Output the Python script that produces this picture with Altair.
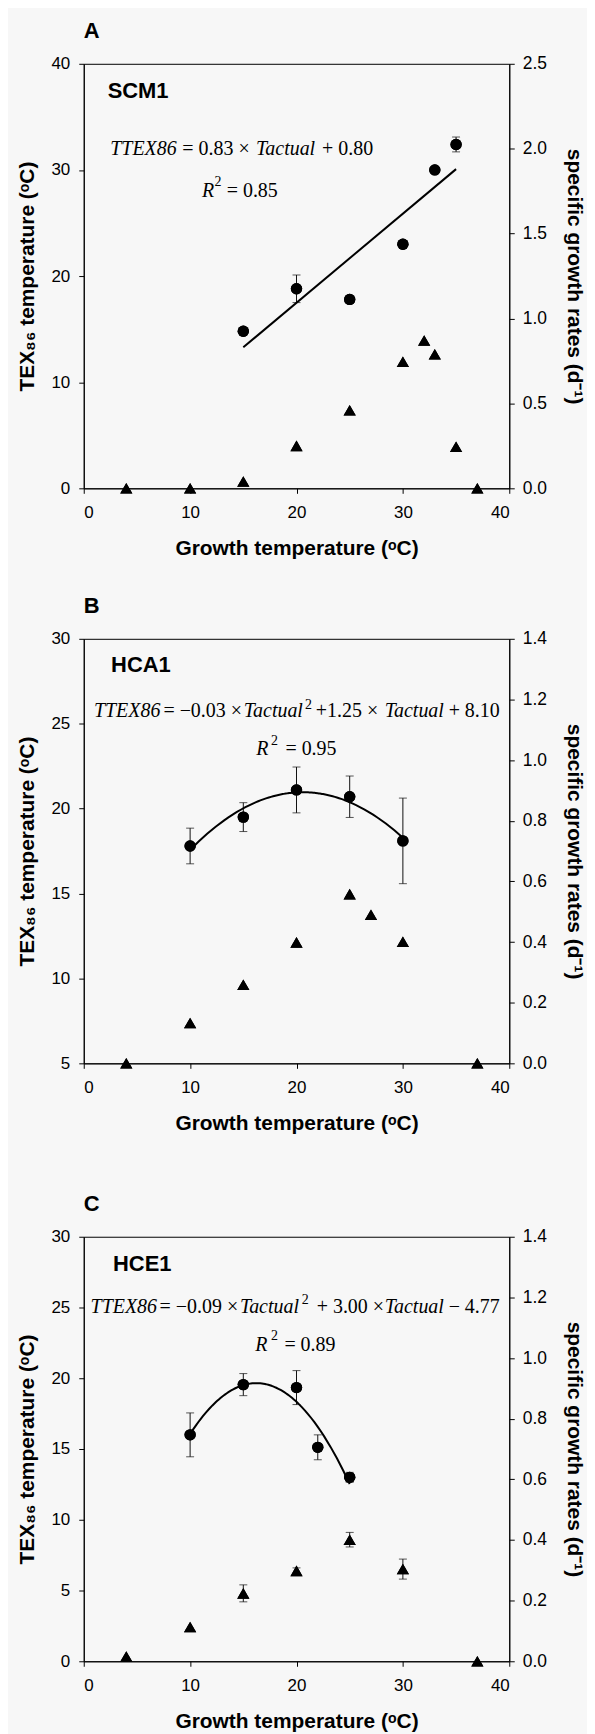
import altair as alt
import pandas as pd

# ---------------- shared ----------------
X_TICKS = [0, 10, 20, 30, 40]
X_TITLE = "Growth temperature (ᵒC)"
Y_TITLE = "TEX₈₆ temperature (ᵒC)"
R_TITLE = "specific growth rates (d⁻¹)"

# ---------------- Panel A : SCM1 ----------------
A_TEX_X = [15, 20, 25, 30, 33, 35]
A_TEX = [14.8, 18.8, 17.8, 23.0, 30.0, 32.4]
A_TEX_ERR = [0.0, 1.3, 0.0, 0.0, 0.0, 0.7]
A_RATE_X = [4, 10, 15, 20, 25, 30, 32, 33, 35, 37]
A_RATE = [0.0, 0.0, 0.04, 0.25, 0.46, 0.745, 0.87, 0.79, 0.245, 0.0]
A_RATE_ERR = [0.0, 0.0, 0.0, 0.0, 0.0, 0.0, 0.0, 0.0, 0.0, 0.0]
A_Y_DOMAIN = [0, 40]
A_Y_TICKS = [0, 10, 20, 30, 40]
A_R_DOMAIN = [0, 2.5]
A_R_TICKS = [0.0, 0.5, 1.0, 1.5, 2.0, 2.5]
A_ITALIC = [("TTEX86", 2.49, 31.36), ("Tactual", 16.2, 31.36), ("R", 11.12, 27.42)]
A_UPRIGHT = [("= 0.83 ×", 9.27, 31.36), ("+ 0.80", 22.4, 31.36), ("= 0.85", 13.44, 27.42)]
A_SUP = [("2", 12.3, 28.45)]
A_LABEL = [("SCM1", 2.25, 36.74)]

# ---------------- Panel B : HCA1 ----------------
B_TEX_X = [10, 15, 20, 25, 30]
B_TEX = [17.8, 19.5, 21.1, 20.7, 18.1]
B_TEX_ERR = [1.05, 0.85, 1.35, 1.22, 2.52]
B_RATE_X = [4, 10, 15, 20, 25, 27, 30, 37]
B_RATE = [0.0, 0.133, 0.259, 0.399, 0.558, 0.49, 0.401, 0.0]
B_RATE_ERR = [0.0, 0.0, 0.0, 0.0, 0.0, 0.0, 0.0, 0.0]
B_Y_DOMAIN = [5, 30]
B_Y_TICKS = [5, 10, 15, 20, 25, 30]
B_R_DOMAIN = [0, 1.4]
B_R_TICKS = [0.0, 0.2, 0.4, 0.6, 0.8, 1.0, 1.2, 1.4]
B_ITALIC = [("TTEX86", 0.96, 25.41), ("Tactual", 15.05, 25.41), ("Tactual", 28.3, 25.41), ("R", 16.22, 23.16)]
B_UPRIGHT = [("= −0.03 ×", 7.49, 25.41), ("+1.25 ×", 21.82, 25.41), ("+ 8.10", 34.3, 25.41), ("= 0.95", 18.96, 23.16)]
B_SUP = [("2", 20.8, 25.85), ("2", 17.61, 23.75)]
B_LABEL = [("HCA1", 2.57, 28.05)]

# ---------------- Panel C : HCE1 ----------------
C_TEX_X = [10, 15, 20, 22, 25]
C_TEX = [16.0, 19.55, 19.34, 15.12, 13.0]
C_TEX_ERR = [1.55, 0.78, 1.2, 0.88, 0.35]
C_RATE_X = [4, 10, 15, 20, 25, 30, 37]
C_RATE = [0.016, 0.113, 0.224, 0.298, 0.401, 0.304, 0.0]
C_RATE_ERR = [0.0, 0.0, 0.028, 0.01, 0.024, 0.033, 0.0]
C_Y_DOMAIN = [0, 30]
C_Y_TICKS = [0, 5, 10, 15, 20, 25, 30]
C_R_DOMAIN = [0, 1.4]
C_R_TICKS = [0.0, 0.2, 0.4, 0.6, 0.8, 1.0, 1.2, 1.4]
C_ITALIC = [("TTEX86", 0.64, 24.63), ("Tactual", 14.68, 24.63), ("Tactual", 28.3, 24.63), ("R", 16.12, 21.94)]
C_UPRIGHT = [("= −0.09 ×", 7.13, 24.63), ("+ 3.00 ×", 21.9, 24.63), ("− 4.77", 34.3, 24.63), ("= 0.89", 18.86, 21.94)]
C_SUP = [("2", 20.5, 25.27), ("2", 17.61, 22.69)]
C_LABEL = [("HCE1", 2.75, 27.55)]

W, H = 427, 426
XSCALE = alt.Scale(domain=[0, 40], nice=False, zero=False)
XAXIS = alt.Axis(values=X_TICKS, title=X_TITLE)
SERIF = "Liberation Serif"


def errbars(df, field, Y):
    base = (alt.Chart(df)
            .transform_filter("datum.err > 0")
            .transform_calculate(lo=f"datum.{field} - datum.err", hi=f"datum.{field} + datum.err"))
    X = alt.X("x:Q", scale=XSCALE, axis=XAXIS)
    rule = base.mark_rule(color="#111", strokeWidth=1).encode(
        x=X, y=Y("lo:Q"), y2="hi:Q")
    caps = base.transform_fold(["lo", "hi"], as_=["end", "v"]).mark_tick(
        orient="horizontal", size=8, thickness=1, color="#111").encode(
        x=X, y=Y("v:Q"))
    return [rule, caps]


def texts(items, Y, **kw):
    df = pd.DataFrame(items, columns=["t", "x", "y"])
    X = alt.X("x:Q", scale=XSCALE, axis=XAXIS)
    return alt.Chart(df).mark_text(align="left", baseline="alphabetic", color="black", **kw).encode(
        x=X, y=Y("y:Q"), text="t:N")


def panel(letter, tx, tv, te, rx, rv, re_, ydom, yticks, rdom, rticks,
          ital, upr, sup, lab, method, order=None):
    tex_df = pd.DataFrame({"x": tx, "tex": tv, "err": te})
    rate_df = pd.DataFrame({"x": rx, "rate": rv, "err": re_})
    X = alt.X("x:Q", scale=XSCALE, axis=XAXIS)
    ys = alt.Scale(domain=ydom, nice=False, zero=False)
    rs = alt.Scale(domain=rdom, nice=False, zero=False)
    yax = alt.Axis(values=yticks, title=Y_TITLE, orient="left", format="d")
    rax = alt.Axis(values=rticks, title=R_TITLE, orient="right", format=".1f")

    def YL(f):
        return alt.Y(f, scale=ys, axis=yax)

    def YR(f):
        return alt.Y(f, scale=rs, axis=rax)

    circles = alt.Chart(tex_df).mark_point(shape="circle", filled=True, size=130,
                                           color="black", opacity=1).encode(
        x=X, y=YL("tex:Q"))
    reg_kw = {"method": method}
    if order is not None:
        reg_kw["order"] = order
    fit = alt.Chart(tex_df).transform_regression("x", "tex", **reg_kw).mark_line(
        color="black", strokeWidth=2).encode(x=X, y=YL("tex:Q"))
    left = alt.layer(
        circles, *errbars(tex_df, "tex", YL), fit, circles,
        texts(ital, YL, font=SERIF, fontStyle="italic", fontSize=20),
        texts(upr, YL, font=SERIF, fontSize=20),
        texts(sup, YL, font=SERIF, fontSize=14),
        texts(lab, YL, font="Liberation Sans", fontWeight="bold", fontSize=22),
    )
    tri = alt.Chart(rate_df).mark_point(shape="triangle-up", filled=True, size=150,
                                        color="black", opacity=1).encode(
        x=X, y=YR("rate:Q"))
    right = alt.layer(tri, *errbars(rate_df, "rate", YR), tri)
    return alt.layer(left, right).resolve_scale(y="independent").properties(
        width=W, height=H,
        title=alt.TitleParams(letter, anchor="start", frame="group"))


pA = panel("A", A_TEX_X, A_TEX, A_TEX_ERR, A_RATE_X, A_RATE, A_RATE_ERR,
           A_Y_DOMAIN, A_Y_TICKS, A_R_DOMAIN, A_R_TICKS,
           A_ITALIC, A_UPRIGHT, A_SUP, A_LABEL, "linear")
pB = panel("B", B_TEX_X, B_TEX, B_TEX_ERR, B_RATE_X, B_RATE, B_RATE_ERR,
           B_Y_DOMAIN, B_Y_TICKS, B_R_DOMAIN, B_R_TICKS,
           B_ITALIC, B_UPRIGHT, B_SUP, B_LABEL, "poly", 2)
pC = panel("C", C_TEX_X, C_TEX, C_TEX_ERR, C_RATE_X, C_RATE, C_RATE_ERR,
           C_Y_DOMAIN, C_Y_TICKS, C_R_DOMAIN, C_R_TICKS,
           C_ITALIC, C_UPRIGHT, C_SUP, C_LABEL, "poly", 2)

chart = (alt.vconcat(alt.vconcat(pA, pB, spacing=35), pC, spacing=58)
         .configure(background="#f7f7f7",
                    padding={"left": 8, "top": 8, "right": 2, "bottom": 0})
         .configure_view(stroke="black", strokeWidth=1)
         .configure_axis(domainColor="black", tickColor="black", labelColor="black",
                         titleColor="black", labelFont="Liberation Sans", labelFontSize=17,
                         titleFont="Liberation Sans", titleFontWeight="bold", titleFontSize=21,
                         tickSize=5, grid=False)
         .configure_axisX(labelPadding=11, titlePadding=17)
         .configure_axisLeft(labelPadding=9, titlePadding=13)
         .configure_axisRight(labelPadding=8, titlePadding=17, labelFontSize=17.5)
         .configure_title(font="Liberation Sans", fontSize=22, fontWeight="bold",
                          color="black", offset=12))

chart.save("out.html", embed_options={"renderer": "svg", "actions": False})
